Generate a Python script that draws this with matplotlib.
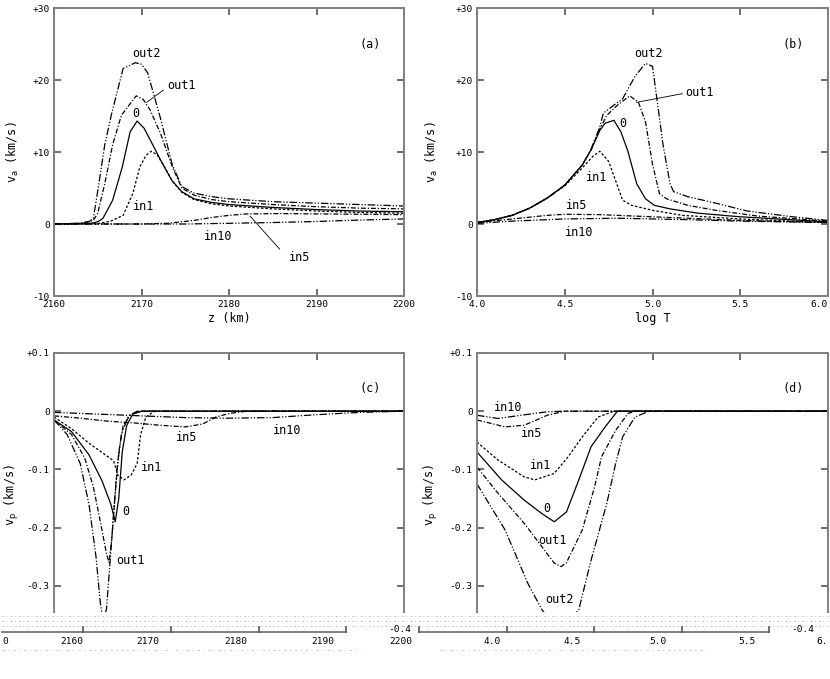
import numpy as np
import matplotlib
matplotlib.use('Agg')
import matplotlib.pyplot as plt
from matplotlib.lines import Line2D

plt.rcParams['font.family'] = ['DejaVu Sans Mono', 'DejaVu Sans']
plt.rcParams['mathtext.fontset'] = 'dejavusans'

# ---------------- panel (a): v_a vs z ----------------
za_out2 = [2160, 2163, 2164, 2164.5, 2165, 2165.8, 2166.6, 2167.9, 2169.3, 2170.0, 2170.7, 2172.1, 2173.5, 2174.6, 2176, 2178, 2180, 2185, 2190, 2195, 2200]
va_out2 = [0, 0.1, 0.3, 0.8, 4.6, 11, 15.4, 21.6, 22.4, 22.2, 21, 15, 8.3, 5.2, 4.3, 3.8, 3.5, 3.1, 2.9, 2.7, 2.5]
za_out1 = [2160, 2163, 2164.5, 2165, 2165.8, 2166.7, 2167.7, 2169.4, 2170.2, 2171, 2172.2, 2173.5, 2174.6, 2176, 2178, 2180, 2185, 2190, 2195, 2200]
va_out1 = [0, 0.1, 0.5, 1.5, 5.6, 11, 15.1, 17.8, 17.3, 15.8, 12.5, 8.0, 5.0, 4.0, 3.4, 3.1, 2.7, 2.4, 2.2, 2.1]
za_0 = [2160, 2164, 2165, 2165.6, 2166.7, 2167.8, 2168.7, 2169.5, 2170.3, 2171.2, 2172.3, 2173.5, 2174.6, 2176, 2178, 2180, 2185, 2190, 2195, 2200]
va_0 = [0, 0.05, 0.3, 0.8, 3.3, 7.9, 12.8, 14.3, 13.3, 11.2, 8.6, 6.0, 4.5, 3.5, 3.0, 2.7, 2.3, 2.0, 1.8, 1.7]
za_in1 = [2160, 2165, 2166.5, 2167.9, 2169, 2169.8, 2170.5, 2171.1, 2171.8, 2172.6, 2173.5, 2174.6, 2176, 2178, 2180, 2185, 2190, 2195, 2200]
va_in1 = [0, 0.05, 0.4, 1.2, 4.2, 7.9, 9.5, 10.1, 9.6, 8.0, 6.0, 4.4, 3.4, 2.8, 2.5, 2.1, 1.8, 1.6, 1.5]
za_in5 = [2160, 2170, 2173, 2176, 2178, 2180, 2182, 2186, 2190, 2195, 2200]
va_in5 = [0, 0, 0.1, 0.5, 0.9, 1.2, 1.4, 1.45, 1.4, 1.35, 1.3]
za_in10 = [2160, 2175, 2180, 2185, 2190, 2195, 2200]
va_in10 = [0, 0, 0.1, 0.2, 0.35, 0.55, 0.7]

# ---------------- panel (b): v_a vs log T ----------------
tb_out2 = [4.0, 4.1, 4.2, 4.3, 4.4, 4.5, 4.6, 4.65, 4.70, 4.72, 4.78, 4.83, 4.90, 4.96, 5.0, 5.03, 5.06, 5.1, 5.12, 5.2, 5.36, 5.54, 5.8, 6.0]
vb_out2 = [0.2, 0.6, 1.2, 2.2, 3.6, 5.4, 8.2, 10.4, 13.5, 15.4, 16.5, 17.4, 20.5, 22.3, 21.9, 16.5, 11, 5.6, 4.5, 3.8, 2.9, 1.8, 1.0, 0.5]
tb_out1 = [4.0, 4.1, 4.2, 4.3, 4.4, 4.5, 4.6, 4.65, 4.70, 4.74, 4.80, 4.87, 4.92, 4.96, 5.0, 5.04, 5.08, 5.2, 5.36, 5.6, 6.0]
vb_out1 = [0.2, 0.6, 1.2, 2.2, 3.6, 5.4, 8.2, 10.3, 13.2, 15.1, 16.5, 17.8, 16.9, 14.2, 8.3, 4.2, 3.5, 2.6, 1.9, 1.1, 0.4]
tb_0 = [4.0, 4.1, 4.2, 4.3, 4.4, 4.5, 4.6, 4.65, 4.70, 4.73, 4.78, 4.82, 4.86, 4.91, 4.96, 5.01, 5.1, 5.26, 5.5, 6.0]
vb_0 = [0.2, 0.6, 1.2, 2.2, 3.6, 5.4, 8.2, 10.3, 13.0, 14.0, 14.4, 12.8, 10.1, 5.6, 3.5, 2.6, 2.1, 1.5, 1.0, 0.3]
tb_in1 = [4.0, 4.1, 4.2, 4.3, 4.4, 4.5, 4.6, 4.66, 4.70, 4.75, 4.79, 4.83, 4.88, 5.0, 5.17, 5.5, 6.0]
vb_in1 = [0.2, 0.6, 1.2, 2.2, 3.6, 5.3, 7.8, 9.4, 10.1, 8.7, 6.0, 3.3, 2.6, 1.9, 1.2, 0.7, 0.2]
tb_in5 = [4.0, 4.2, 4.4, 4.5, 4.7, 4.9, 5.2, 5.5, 6.0]
vb_in5 = [0.2, 0.7, 1.2, 1.35, 1.3, 1.1, 0.8, 0.5, 0.2]
tb_in10 = [4.0, 4.2, 4.5, 4.8, 5.2, 5.5, 6.0]
vb_in10 = [0.1, 0.4, 0.7, 0.8, 0.6, 0.4, 0.2]

# ---------------- panel (c): v_p vs z ----------------
zc_out2 = [2160, 2161.5, 2163, 2164, 2164.8, 2165.3, 2165.6, 2166.0, 2166.4, 2166.8, 2167.2, 2167.7, 2168.5, 2169.5, 2200]
vc_out2 = [-0.015, -0.04, -0.09, -0.16, -0.25, -0.33, -0.36, -0.34, -0.26, -0.18, -0.10, -0.04, -0.008, 0, 0]
zc_out1 = [2160, 2162, 2163.5, 2164.5, 2165.3, 2166.0, 2166.3, 2166.6, 2167.0, 2167.4, 2167.9, 2168.8, 2170, 2200]
vc_out1 = [-0.015, -0.04, -0.08, -0.13, -0.19, -0.245, -0.26, -0.22, -0.14, -0.07, -0.025, -0.005, 0, 0]
zc_0 = [2160, 2162, 2164, 2165.5, 2166.5, 2167.0, 2167.4, 2167.8, 2168.3, 2169, 2170, 2200]
vc_0 = [-0.015, -0.035, -0.075, -0.12, -0.16, -0.19, -0.15, -0.07, -0.025, -0.005, 0, 0]
zc_in1 = [2160, 2162, 2164, 2166.8, 2167.3, 2168, 2168.8, 2169.5, 2169.9, 2170.5, 2171.5, 2200]
vc_in1 = [-0.01, -0.03, -0.055, -0.085, -0.11, -0.118, -0.11, -0.09, -0.04, -0.01, 0, 0]
zc_in5 = [2160, 2163, 2166, 2169, 2172, 2175, 2177, 2178.5, 2180, 2182, 2200]
vc_in5 = [-0.008, -0.012, -0.017, -0.02, -0.024, -0.027, -0.022, -0.01, -0.004, 0, 0]
zc_in10 = [2160, 2165, 2170, 2175, 2180, 2185, 2190, 2195, 2200]
vc_in10 = [-0.002, -0.005, -0.008, -0.011, -0.012, -0.011, -0.006, -0.002, 0]

# ---------------- panel (d): v_p vs log T ----------------
td_out2 = [4.0, 4.16, 4.29, 4.37, 4.47, 4.58, 4.65, 4.74, 4.79, 4.83, 4.90, 4.98, 6.0]
vd_out2 = [-0.125, -0.204, -0.296, -0.341, -0.38, -0.341, -0.256, -0.158, -0.09, -0.044, -0.01, 0, 0]
td_out1 = [4.0, 4.12, 4.27, 4.44, 4.48, 4.51, 4.60, 4.67, 4.71, 4.79, 4.86, 4.9, 6.0]
vd_out1 = [-0.096, -0.141, -0.193, -0.261, -0.267, -0.26, -0.204, -0.13, -0.078, -0.033, -0.004, 0, 0]
td_0 = [4.0, 4.14, 4.27, 4.37, 4.44, 4.51, 4.58, 4.65, 4.73, 4.80, 6.0]
vd_0 = [-0.07, -0.118, -0.153, -0.176, -0.19, -0.173, -0.118, -0.061, -0.027, 0, 0]
td_in1 = [4.0, 4.12, 4.27, 4.33, 4.44, 4.52, 4.60, 4.69, 4.78, 6.0]
vd_in1 = [-0.053, -0.084, -0.113, -0.118, -0.107, -0.078, -0.044, -0.01, 0, 0]
td_in5 = [4.0, 4.16, 4.27, 4.40, 4.5, 6.0]
vd_in5 = [-0.015, -0.027, -0.024, -0.007, 0, 0]
td_in10 = [4.0, 4.12, 4.25, 4.4, 4.5, 6.0]
vd_in10 = [-0.007, -0.0125, -0.007, -0.001, 0, 0]

styles = {
    'out2': (0, (6, 1.5, 1, 1.5, 1, 1.5)),
    'out1': (0, (4, 1.5, 1, 1.5)),
    '0': '-',
    'in1': (0, (2, 1.5)),
    'in5': (0, (4, 1.5, 1, 1.5)),
    'in10': (0, (6, 1.5, 1, 1.5, 1, 1.5)),
}

W, H = 830, 679
fig = plt.figure(figsize=(W / 100, H / 100), dpi=100)


def box(l, t, r, b):
    return [l / W, 1 - b / H, (r - l) / W, (b - t) / H]


ax_a = fig.add_axes(box(54, 8, 404, 296))
ax_b = fig.add_axes(box(477, 8, 828, 296))
ax_c = fig.add_axes(box(54, 353, 404, 612))
ax_d = fig.add_axes(box(477, 353, 828, 612))

spine_col = '#808080'
tick_fs = 6.8
lab_fs = 8.5
lw = 0.9

for ax in [ax_a, ax_b, ax_c, ax_d]:
    for s in ax.spines.values():
        s.set_color(spine_col)
        s.set_linewidth(1.4)
    ax.tick_params(direction='in', length=5, width=1.2, color='#555555',
                   top=True, right=True, labelsize=tick_fs, pad=3)

# (a)
ax_a.plot(za_out2, va_out2, color='k', lw=lw, ls=styles['out2'])
ax_a.plot(za_out1, va_out1, color='k', lw=lw, ls=styles['out1'])
ax_a.plot(za_0, va_0, color='k', lw=lw, ls=styles['0'])
ax_a.plot(za_in1, va_in1, color='k', lw=lw, ls=styles['in1'])
ax_a.plot(za_in5, va_in5, color='k', lw=lw, ls=styles['in5'])
ax_a.plot(za_in10, va_in10, color='k', lw=lw, ls=styles['in10'])
ax_a.set_xlim(2160, 2200)
ax_a.set_ylim(-10, 30)
ax_a.set_xticks([2160, 2170, 2180, 2190, 2200])
ax_a.set_yticks([-10, 0, 10, 20, 30])
ax_a.set_yticklabels(['-10', '0', '+10', '+20', '+30'])
ax_a.set_xlabel('z (km)', fontsize=lab_fs)
ax_a.xaxis.set_label_coords(0.5, -0.056)
ax_a.set_ylabel(r'v$_{\rm a}$ (km/s)', fontsize=lab_fs)
ax_a.yaxis.set_label_coords(-0.094, 0.5)
ax_a.text(2170.6, 23.7, 'out2', ha='center', va='center', fontsize=lab_fs)
ax_a.text(2174.6, 19.2, 'out1', ha='center', va='center', fontsize=lab_fs)
ax_a.plot([2172.5, 2170.6], [18.6, 16.9], color='k', lw=0.6)
ax_a.text(2169.3, 15.4, '0', ha='center', va='center', fontsize=lab_fs)
ax_a.text(2170.2, 2.4, 'in1', ha='center', va='center', fontsize=lab_fs)
ax_a.text(2178.8, -1.7, 'in10', ha='center', va='center', fontsize=lab_fs)
ax_a.text(2188.1, -4.6, 'in5', ha='center', va='center', fontsize=lab_fs)
ax_a.plot([2185.8, 2182.4], [-3.5, 1.1], color='k', lw=0.6)
ax_a.text(2196.1, 24.9, '(a)', ha='center', va='center', fontsize=lab_fs)

# (b)
ax_b.plot(tb_out2, vb_out2, color='k', lw=lw, ls=styles['out2'])
ax_b.plot(tb_out1, vb_out1, color='k', lw=lw, ls=styles['out1'])
ax_b.plot(tb_0, vb_0, color='k', lw=lw, ls=styles['0'])
ax_b.plot(tb_in1, vb_in1, color='k', lw=lw, ls=styles['in1'])
ax_b.plot(tb_in5, vb_in5, color='k', lw=lw, ls=styles['in5'])
ax_b.plot(tb_in10, vb_in10, color='k', lw=lw, ls=styles['in10'])
ax_b.set_xlim(4.0, 6.0)
ax_b.set_ylim(-10, 30)
ax_b.set_xticks([4.0, 4.5, 5.0, 5.5, 6.0])
ax_b.set_xticklabels(['4.0', '4.5', '5.0', '5.5', '6.0'])
ax_b.get_xticklabels()[-1].set_ha('right')
ax_b.set_yticks([-10, 0, 10, 20, 30])
ax_b.set_yticklabels(['-10', '0', '+10', '+20', '+30'])
ax_b.set_xlabel('log T', fontsize=lab_fs)
ax_b.xaxis.set_label_coords(0.5, -0.056)
ax_b.set_ylabel(r'v$_{\rm a}$ (km/s)', fontsize=lab_fs)
ax_b.yaxis.set_label_coords(-0.105, 0.5)
ax_b.text(4.976, 23.7, 'out2', ha='center', va='center', fontsize=lab_fs)
ax_b.text(5.27, 18.2, 'out1', ha='center', va='center', fontsize=lab_fs)
ax_b.plot([5.17, 4.91], [18.1, 16.9], color='k', lw=0.6)
ax_b.text(4.83, 14.0, '0', ha='center', va='center', fontsize=lab_fs)
ax_b.text(4.68, 6.5, 'in1', ha='center', va='center', fontsize=lab_fs)
ax_b.text(4.57, 2.6, 'in5', ha='center', va='center', fontsize=lab_fs)
ax_b.text(4.58, -1.2, 'in10', ha='center', va='center', fontsize=lab_fs)
ax_b.text(5.80, 24.9, '(b)', ha='center', va='center', fontsize=lab_fs)

# (c)
ax_c.plot(zc_out2, vc_out2, color='k', lw=lw, ls=styles['out2'])
ax_c.plot(zc_out1, vc_out1, color='k', lw=lw, ls=styles['out1'])
ax_c.plot(zc_0, vc_0, color='k', lw=lw, ls=styles['0'])
ax_c.plot(zc_in1, vc_in1, color='k', lw=lw, ls=styles['in1'])
ax_c.plot(zc_in5, vc_in5, color='k', lw=lw, ls=styles['in5'])
ax_c.plot(zc_in10, vc_in10, color='k', lw=lw, ls=styles['in10'])
ax_c.set_xlim(2160, 2200)
ax_c.set_ylim(-0.345, 0.1)
ax_c.set_xticks([2170, 2180, 2190])
ax_c.set_yticks([-0.3, -0.2, -0.1, 0, 0.1])
ax_c.set_yticklabels(['-0.3', '-0.2', '-0.1', '0', '+0.1'])
ax_c.set_ylabel(r'v$_{\rm p}$ (km/s)', fontsize=lab_fs)
ax_c.yaxis.set_label_coords(-0.094, 0.45)
ax_c.text(2171.2, -0.096, 'in1', ha='center', va='center', fontsize=lab_fs)
ax_c.text(2175.2, -0.045, 'in5', ha='center', va='center', fontsize=lab_fs)
ax_c.text(2186.6, -0.033, 'in10', ha='center', va='center', fontsize=lab_fs)
ax_c.text(2168.2, -0.173, '0', ha='center', va='center', fontsize=lab_fs)
ax_c.text(2168.7, -0.256, 'out1', ha='center', va='center', fontsize=lab_fs)
ax_c.text(2196.1, 0.039, '(c)', ha='center', va='center', fontsize=lab_fs)

# (d)
ax_d.plot(td_out2, vd_out2, color='k', lw=lw, ls=styles['out2'])
ax_d.plot(td_out1, vd_out1, color='k', lw=lw, ls=styles['out1'])
ax_d.plot(td_0, vd_0, color='k', lw=lw, ls=styles['0'])
ax_d.plot(td_in1, vd_in1, color='k', lw=lw, ls=styles['in1'])
ax_d.plot(td_in5, vd_in5, color='k', lw=lw, ls=styles['in5'])
ax_d.plot(td_in10, vd_in10, color='k', lw=lw, ls=styles['in10'])
ax_d.set_xlim(4.0, 6.0)
ax_d.set_ylim(-0.345, 0.1)
ax_d.set_xticks([4.5, 5.0, 5.5])
ax_d.set_yticks([-0.3, -0.2, -0.1, 0, 0.1])
ax_d.set_yticklabels(['-0.3', '-0.2', '-0.1', '0', '+0.1'])
ax_d.set_ylabel(r'v$_{\rm p}$ (km/s)', fontsize=lab_fs)
ax_d.yaxis.set_label_coords(-0.105, 0.45)
ax_d.text(4.18, 0.007, 'in10', ha='center', va='center', fontsize=lab_fs)
ax_d.text(4.31, -0.038, 'in5', ha='center', va='center', fontsize=lab_fs)
ax_d.text(4.36, -0.094, 'in1', ha='center', va='center', fontsize=lab_fs)
ax_d.text(4.40, -0.168, '0', ha='center', va='center', fontsize=lab_fs)
ax_d.text(4.43, -0.223, 'out1', ha='center', va='center', fontsize=lab_fs)
ax_d.text(4.47, -0.324, 'out2', ha='center', va='center', fontsize=lab_fs)
ax_d.text(5.80, 0.039, '(d)', ha='center', va='center', fontsize=lab_fs)

# bottom panels lose their lower edge in the scan: open frame, shifted axis strip below
for ax in [ax_c, ax_d]:
    ax.spines['bottom'].set_visible(False)
    ax.tick_params(bottom=False, labelbottom=False)


def fline(x0, y0, x1, y1, **kw):
    fig.add_artist(Line2D([x0 / W, x1 / W], [1 - y0 / H, 1 - y1 / H],
                          transform=fig.transFigure, **kw))


def ftext(x, y, s, **kw):
    fig.text(x / W, 1 - y / H, s, ha='center', va='center', fontsize=tick_fs, **kw)


# scan noise rows
for yy in [616, 621, 626]:
    fline(2, yy, 828, yy, color='#b0b0b0', lw=0.6, ls=(0, (2, 3, 1, 4)))
fline(2, 650, 360, 650, color='#c0c0c0', lw=0.6, ls=(0, (3, 4, 1, 5)))
fline(440, 650, 710, 650, color='#c0c0c0', lw=0.6, ls=(0, (3, 4, 1, 5)))

strip_left = ['0', '2160', '2170', '2180', '2190', '2200']
strip_left_x = [5, 72, 148, 236, 323, 401]
strip_right = ['4.0', '4.5', '5.0', '5.5', '6.']
strip_right_x = [492, 572, 658, 747, 822]

fline(2, 632, 346, 632, color=spine_col, lw=1.4)
for xx in [83, 171, 259, 346]:
    fline(xx, 632, xx, 627, color='#555555', lw=1.2)
fline(419, 632, 769, 632, color=spine_col, lw=1.4)
for xx in [419, 507, 594, 682, 769]:
    fline(xx, 632, xx, 627, color='#555555', lw=1.2)
for s, xx in zip(strip_left, strip_left_x):
    ftext(xx, 641, s)
for s, xx in zip(strip_right, strip_right_x):
    ftext(xx, 641, s)
ftext(400, 630, '-0.4')
ftext(803, 630, '-0.4')

fig.savefig('out.png', dpi=100)
